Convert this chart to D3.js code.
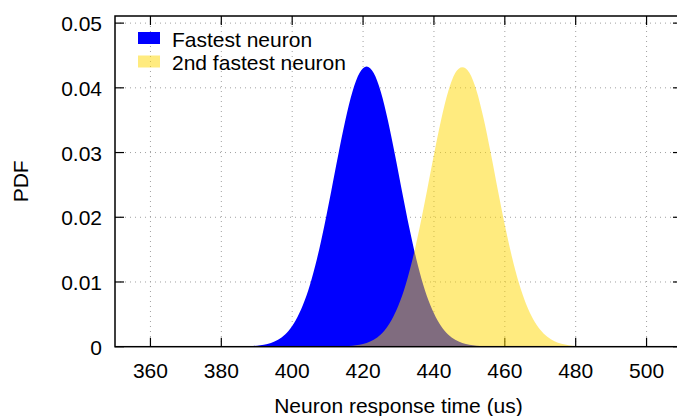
<!DOCTYPE html>
<html>
<head>
<meta charset="utf-8">
<script src="https://cdn.jsdelivr.net/npm/d3@7"></script>
<style>
  html, body { margin: 0; padding: 0; background: #fff; }
  svg { display: block; }
  text { font-family: "Liberation Sans", Arial, sans-serif; fill: #000; }
</style>
</head>
<body>
<svg id="chart" width="677" height="416"></svg>
<script>
// ---- data ----
const xTicks = [360, 380, 400, 420, 440, 460, 480, 500];
const yTicks = [0, 0.01, 0.02, 0.03, 0.04, 0.05];
const yTickLabels = ["0", "0.01", "0.02", "0.03", "0.04", "0.05"];
const seriesNames = ["Fastest neuron", "2nd fastest neuron"];

const fastestX = [385,387,389,391,393,395,397,399,401,403,405,407,409,411,413,415,417,419,421,423,425,427,429,431,433,435,437,439,441,443,445,447,449,451,453,455,457];
const fastestPdf = [0.00002,0.00005,0.00010,0.00021,0.00042,0.00080,0.00144,0.00248,0.00408,0.00639,0.00954,0.01360,0.01850,0.02399,0.02967,0.03501,0.03940,0.04229,0.04330,0.04229,0.03940,0.03501,0.02967,0.02399,0.01850,0.01360,0.00954,0.00639,0.00408,0.00248,0.00144,0.00080,0.00042,0.00021,0.00010,0.00005,0.00002];

const secondX = [412,414,416,418,420,422,424,426,428,430,432,434,436,438,440,442,444,446,448,450,452,454,456,458,460,462,464,466,468,470,472,474,476,478,480,482,484];
const secondPdf = [0.00002,0.00005,0.00010,0.00021,0.00042,0.00080,0.00144,0.00248,0.00408,0.00639,0.00954,0.01360,0.01850,0.02399,0.02967,0.03501,0.03940,0.04229,0.04320,0.04235,0.03960,0.03530,0.03000,0.02430,0.01880,0.01390,0.00980,0.00660,0.00425,0.00260,0.00152,0.00085,0.00045,0.00022,0.00010,0.00005,0.00002];

// ---- layout ----
const svg = d3.select("#chart");
const L = 115, R = 682, T = 16, B = 346.7;
const x = d3.scaleLinear().domain([350, 510]).range([L, R]);
const y = d3.scaleLinear().domain([0, 0.0511]).range([B, T]);
const fontSize = 21;

// grid
const grid = svg.append("g").attr("stroke", "#a0a0a0").attr("stroke-width", 1)
  .attr("stroke-dasharray", "1,4");
grid.selectAll("line.gx").data(xTicks).join("line")
  .attr("x1", d => x(d)).attr("x2", d => x(d)).attr("y1", T).attr("y2", B);
grid.selectAll("line.gy").data(yTicks.filter(d => d > 0)).join("line")
  .attr("x1", L).attr("x2", R).attr("y1", d => y(d)).attr("y2", d => y(d));

// ticks (all four sides, inward)
const tickLen = 9;
const tk = svg.append("g").attr("stroke", "#000").attr("stroke-width", 1.2);
xTicks.forEach(d => {
  tk.append("line").attr("x1", x(d)).attr("x2", x(d)).attr("y1", B).attr("y2", B - tickLen);
  tk.append("line").attr("x1", x(d)).attr("x2", x(d)).attr("y1", T).attr("y2", T + tickLen);
});
yTicks.forEach(d => {
  tk.append("line").attr("x1", L).attr("x2", L + tickLen).attr("y1", y(d)).attr("y2", y(d));
  tk.append("line").attr("x1", R).attr("x2", R - tickLen).attr("y1", y(d)).attr("y2", y(d));
});

// areas
const area = d3.area().curve(d3.curveMonotoneX)
  .x(d => x(d[0])).y0(y(0)).y1(d => y(d[1]));
const fastestData = fastestX.map((v, i) => [v, fastestPdf[i]]);
const secondData = secondX.map((v, i) => [v, secondPdf[i]]);
const colors = ["#0000ff", "#ffd700"];
const opac = [1, 0.5];

svg.append("path").datum(fastestData).attr("d", area)
  .attr("fill", colors[0]).attr("fill-opacity", opac[0]);
svg.append("path").datum(secondData).attr("d", area)
  .attr("fill", colors[1]).attr("fill-opacity", opac[1]);

// border
svg.append("rect").attr("x", L).attr("y", T).attr("width", R - L).attr("height", B - T)
  .attr("fill", "none").attr("stroke", "#000").attr("stroke-width", 1.5);

// tick labels
svg.append("g").selectAll("text").data(xTicks).join("text")
  .attr("x", d => x(d)).attr("y", 378).attr("text-anchor", "middle")
  .attr("font-size", fontSize).text(d => d);
svg.append("g").selectAll("text").data(yTicks).join("text")
  .attr("x", 102).attr("y", d => y(d) + 8).attr("text-anchor", "end")
  .attr("font-size", fontSize).text((d, i) => yTickLabels[i]);

// axis labels
svg.append("text").attr("x", (L + R) / 2).attr("y", 413).attr("text-anchor", "middle")
  .attr("font-size", fontSize).text("Neuron response time (us)");
svg.append("text").attr("transform", `translate(28,${(T + B) / 2}) rotate(-90)`)
  .attr("text-anchor", "middle").attr("font-size", fontSize).text("PDF");

// legend
const leg = svg.append("g");
seriesNames.forEach((name, i) => {
  const yy = 32 + i * 23.5;
  leg.append("rect").attr("x", 138).attr("y", yy).attr("width", 22).attr("height", 12)
    .attr("fill", colors[i]).attr("fill-opacity", opac[i]);
  leg.append("text").attr("x", 172).attr("y", yy + 14.5).attr("font-size", fontSize).text(name);
});
</script>
</body>
</html>
